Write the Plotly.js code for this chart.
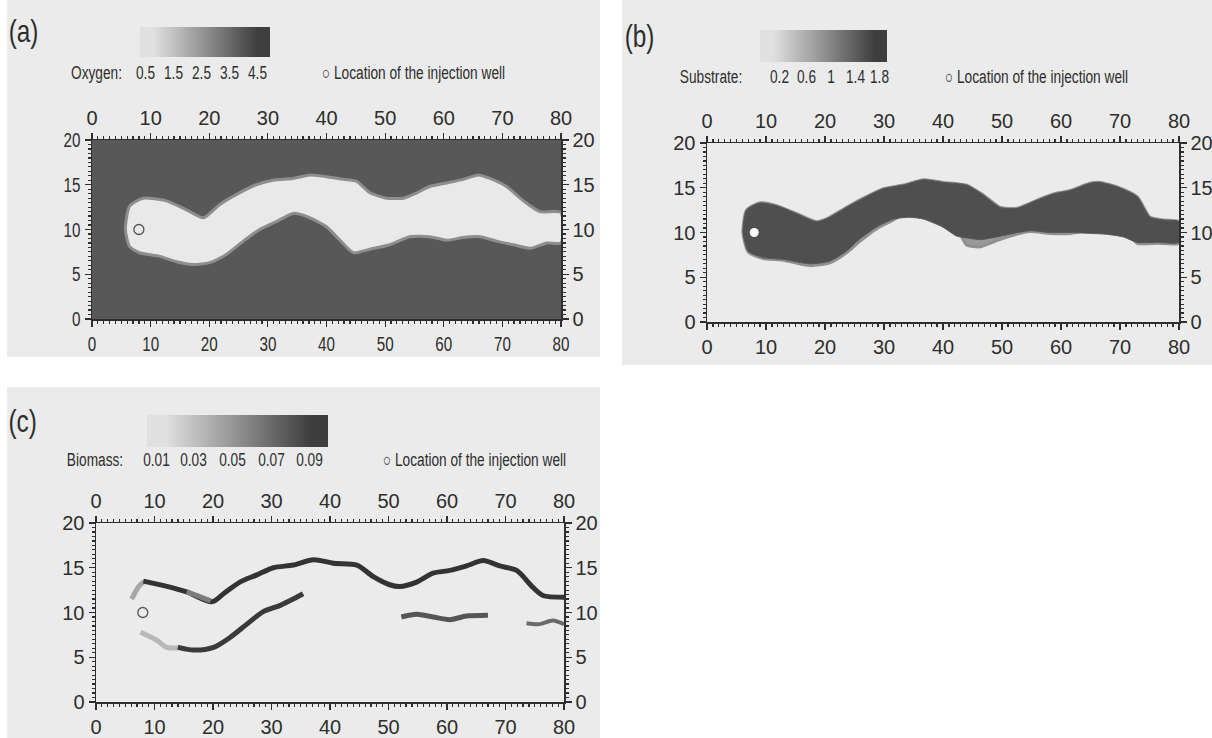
<!DOCTYPE html>
<html>
<head>
<meta charset="utf-8">
<script src="https://cdn.plot.ly/plotly-3.0.1.min.js"></script>
<style>html,body{margin:0;padding:0;background:#fff;}#chart{width:1212px;height:738px;}</style>
</head>
<body>
<div id="chart"></div>
<script>
// ---------- data ----------
const xTicks = [0, 10, 20, 30, 40, 50, 60, 70, 80];
const yTicks = [0, 5, 10, 15, 20];
const wellX = [8];
const wellY = [10];

// (a) oxygen: depleted-oxygen plume boundary
const aUpperX = [5.7, 6.4, 8.7, 12.7, 16.1, 19, 21.8, 24.6, 28, 30.9, 34.3, 37.2, 40, 42.9, 45.1, 47.4, 50.2, 53.1, 55.4, 57.6, 60.5, 63.3, 65.9, 67.9, 70.7, 73.6, 76.4, 80];
const aUpperY = [10, 12.6, 13.5, 13.2, 12.2, 11.3, 12.8, 13.9, 15, 15.5, 15.7, 16.1, 15.9, 15.6, 15.4, 14.1, 13.5, 13.5, 14.1, 14.8, 15.2, 15.6, 16.1, 15.7, 14.8, 13.2, 12.0, 11.9];
const aLowerX = [5.7, 6.4, 8.1, 11.6, 14.4, 17.2, 20.1, 22.9, 25.8, 28.6, 31.5, 34.3, 37.2, 40, 42.3, 44.6, 47.4, 50.8, 54.2, 57.6, 60.5, 63.3, 66.2, 69, 71.9, 74.7, 77.6, 80];
const aLowerY = [10, 8.1, 7.4, 7.0, 6.4, 6.1, 6.3, 7.2, 8.7, 10, 10.9, 11.8, 11.3, 10.3, 8.8, 7.4, 7.8, 8.3, 9.2, 9.2, 8.8, 9.1, 9.2, 8.7, 8.3, 7.9, 8.5, 8.5];
const oxygenLevels = [0.5, 1.5, 2.5, 3.5, 4.5];

// (b) substrate plume
const bUpperX = [6.1, 6.7, 8.9, 11.8, 15.2, 18.6, 20.8, 23.6, 27, 29.9, 33.3, 36.7, 40, 44, 46.8, 49.7, 52.5, 55.9, 58.7, 61.6, 64.9, 66.6, 69.5, 72.9, 75.1, 77.4, 80];
const bUpperY = [10.0, 12.5, 13.3, 13.0, 12.1, 11.2, 11.7, 12.8, 14.0, 14.9, 15.3, 15.9, 15.6, 15.3, 14.2, 12.8, 12.7, 13.6, 14.3, 14.7, 15.5, 15.6, 15.1, 14.0, 11.7, 11.4, 11.2];
const bLowerX = [6.1, 7.0, 9.5, 12.9, 17.4, 20.8, 23.6, 25.9, 28.7, 31.6, 34.4, 36.7, 40, 42.3, 44, 46.3, 49.1, 51.9, 54.8, 58.2, 61.6, 64.9, 67.8, 70.6, 72.9, 76.3, 80];
const bLowerY = [10.0, 7.8, 7.1, 6.9, 6.3, 6.6, 7.7, 9.0, 10.4, 11.4, 12.5, 12.5, 11.7, 10.6, 8.6, 8.4, 9.1, 9.7, 10.1, 9.9, 9.9, 10.3, 10.7, 10.3, 8.8, 8.8, 8.8];
const bCoreLowerY = [10.0, 7.9, 7.2, 7.0, 6.5, 6.8, 7.9, 9.3, 10.6, 11.5, 11.7, 11.5, 10.6, 9.6, 9.4, 9.2, 9.5, 9.9, 10.2, 10.0, 10.0, 9.9, 9.8, 9.5, 8.9, 8.9, 8.9];
const substrateLevels = [0.2, 0.6, 1, 1.4, 1.8];

// (c) biomass fringes
const cUpperFaintX = [6.1, 7.3, 8.3];
const cUpperFaintY = [11.5, 12.9, 13.5];
const cUpperX = [8.1, 11.6, 15.5, 19.8, 21.8, 24.6, 27.5, 30.3, 33.7, 37.2, 40.6, 44.6, 47.4, 50.2, 51.9, 54.8, 57.6, 60.5, 63.3, 66.2, 69, 71.9, 74.7, 76.4, 80];
const cUpperY = [13.5, 13.0, 12.3, 11.2, 12.1, 13.4, 14.2, 15.0, 15.3, 15.9, 15.5, 15.3, 14.0, 13.1, 12.9, 13.4, 14.4, 14.7, 15.2, 15.8, 15.2, 14.7, 12.8, 11.9, 11.7];
const cUpperGrayX = [15.5, 17.6, 19.6];
const cUpperGrayY = [12.3, 11.8, 11.3];
const cLowerFaintX = [7.6, 10.4, 12.1, 14.4];
const cLowerFaintY = [7.8, 6.9, 6.1, 6.1];
const cLowerX = [14.0, 16.7, 20.1, 22.9, 25.8, 28.6, 31.5, 33.7, 35.4];
const cLowerY = [6.1, 5.8, 6.1, 7.2, 8.7, 10.1, 10.8, 11.5, 12.1];
const cMidX = [52.2, 54.8, 57.6, 60.5, 63.3, 67];
const cMidY = [9.5, 9.8, 9.5, 9.2, 9.6, 9.7];
const cRightX = [73.6, 75.8, 78.1, 80];
const cRightY = [8.8, 8.7, 9.1, 8.7];
const biomassLevels = [0.01, 0.03, 0.05, 0.07, 0.09];

// ---------- helpers ----------
const W = 1212, H = 738;
const px = v => v / W;
const py = v => 1 - v / H;
const FONT = "'Liberation Sans', Arial, sans-serif";
const INK = '#2e2e2e';
const poly = (ux, uy, lx, ly) => ({
  x: ux.concat(lx.slice().reverse()),
  y: uy.concat(ly.slice().reverse())
});

const traces = [];
const layout = {
  width: W, height: H,
  margin: {l: 0, r: 0, t: 0, b: 0},
  paper_bgcolor: '#ffffff',
  plot_bgcolor: 'rgba(0,0,0,0)',
  showlegend: false,
  font: {family: FONT, color: INK, size: 18},
  shapes: [], annotations: []
};

// scanned-page background patches
[[7, 0, 600, 357], [622, 0, 1212, 365], [7, 387, 600, 738]].forEach(r => {
  layout.shapes.push({type: 'rect', xref: 'paper', yref: 'paper', layer: 'below',
    x0: px(r[0]), x1: px(r[2]), y0: py(r[3]), y1: py(r[1]),
    fillcolor: '#ebebeb', line: {width: 0}});
});

function panelAxes(n, xd, yd) {
  const common = {
    showgrid: false, zeroline: false, showline: true, linecolor: INK, linewidth: 1.5,
    ticks: 'outside', ticklen: 6, tickwidth: 1.2, tickcolor: INK,
    tickfont: {family: FONT, size: 20, color: INK}, fixedrange: true
  };
  const xa = Object.assign({}, common, {domain: xd, range: [0, 80], tickvals: xTicks,
    minor: {dtick: 1, ticklen: 3, ticks: 'outside', tickcolor: INK, showgrid: false}});
  const ya = Object.assign({}, common, {domain: yd, range: [0, 20], tickvals: yTicks,
    minor: {dtick: 0.5, ticklen: 3, ticks: 'outside', tickcolor: INK, showgrid: false}});
  const ix = (n - 1) * 2 + 1;
  const sfx = i => (i === 1 ? '' : String(i));
  const xid = 'x' + sfx(ix), yid = 'y' + sfx(ix);
  const xtid = 'x' + (ix + 1), yrid = 'y' + (ix + 1);
  layout['xaxis' + sfx(ix)] = Object.assign({}, xa, {anchor: yid, side: 'bottom'});
  layout['xaxis' + (ix + 1)] = Object.assign({}, xa, {anchor: yid, side: 'top', overlaying: xid});
  layout['yaxis' + sfx(ix)] = Object.assign({}, ya, {anchor: xid, side: 'left'});
  layout['yaxis' + (ix + 1)] = Object.assign({}, ya, {anchor: xid, side: 'right', overlaying: yid});
  // invisible carriers so the mirrored (top / right) axes get drawn
  traces.push({type: 'scatter', mode: 'markers', x: wellX, y: wellY, xaxis: xtid, yaxis: yid,
    marker: {opacity: 0}, hoverinfo: 'skip'});
  traces.push({type: 'scatter', mode: 'markers', x: wellX, y: wellY, xaxis: xid, yaxis: yrid,
    marker: {opacity: 0}, hoverinfo: 'skip'});
  return {x: xid, y: yid};
}

function colorBar(n, xd, yd, levels) {
  layout['xaxis' + (20 + n)] = {domain: xd, visible: false, fixedrange: true, anchor: 'y' + (20 + n)};
  layout['yaxis' + (20 + n)] = {domain: yd, visible: false, fixedrange: true, anchor: 'x' + (20 + n)};
  traces.push({type: 'heatmap', x: levels, y: [0, 1], z: [levels, levels],
    xaxis: 'x' + (20 + n), yaxis: 'y' + (20 + n), zsmooth: 'best', showscale: false,
    hoverinfo: 'skip',
    colorscale: [[0, '#e0e0e0'], [0.3, '#b0b0b0'], [0.65, '#777777'], [1, '#3e3e3e']]});
}

function txt(cx, cy, s, size) {
  layout.annotations.push({xref: 'paper', yref: 'paper', x: px(cx), y: py(cy), xanchor: 'center', yanchor: 'middle',
    text: s, showarrow: false, font: {family: FONT, size: size, color: INK}});
}

function header(label, labelC, name, nameC, nums, numC, legC, ty) {
  txt(labelC[0], labelC[1], label, 32);
  txt(nameC, ty, name, 18);
  nums.forEach((v, i) => txt(numC[i], ty, String(v), 18));
  txt(legC, ty, '○ Location of the injection well', 18);
}

// ---------- panel (a) ----------
const A = panelAxes(1, [px(92), px(561)], [py(319), py(140)]);
layout.shapes.push({type: 'rect', xref: 'x domain', yref: 'y domain', layer: 'below',
  x0: 0, x1: 1, y0: 0, y1: 1, fillcolor: '#585858', line: {width: 0}});
const pa = poly(aUpperX, aUpperY, aLowerX, aLowerY);
traces.push({type: 'scatter', mode: 'lines', x: pa.x, y: pa.y, fill: 'toself', fillcolor: '#e9e9e9',
  line: {color: '#8e8e8e', width: 3, shape: 'spline', smoothing: 0.6}, xaxis: A.x, yaxis: A.y, hoverinfo: 'skip'});
traces.push({type: 'scatter', mode: 'markers', x: wellX, y: wellY, xaxis: A.x, yaxis: A.y,
  marker: {symbol: 'circle-open', size: 10, color: '#555', line: {width: 1.3}}});
colorBar(1, [px(140), px(270)], [py(57), py(27)], oxygenLevels);
header('(a)', [23, 31], 'Oxygen:', 96, oxygenLevels, [145, 173, 201, 229, 257], 413, 73);

// ---------- panel (b) ----------
const B = panelAxes(2, [px(707), px(1179)], [py(322), py(143)]);
const pb = poly(bUpperX, bUpperY, bLowerX, bLowerY);
traces.push({type: 'scatter', mode: 'lines', x: pb.x, y: pb.y, fill: 'toself', fillcolor: '#999999',
  line: {color: '#909090', width: 3, shape: 'spline', smoothing: 0.6}, xaxis: B.x, yaxis: B.y, hoverinfo: 'skip'});
const pbc = poly(bUpperX, bUpperY, bLowerX, bCoreLowerY);
traces.push({type: 'scatter', mode: 'lines', x: pbc.x, y: pbc.y, fill: 'toself', fillcolor: '#4f4f4f',
  line: {color: '#555555', width: 1, shape: 'spline', smoothing: 0.6}, xaxis: B.x, yaxis: B.y, hoverinfo: 'skip'});
traces.push({type: 'scatter', mode: 'markers', x: wellX, y: wellY, xaxis: B.x, yaxis: B.y,
  marker: {symbol: 'circle', size: 9, color: '#ffffff', line: {width: 0}}});
colorBar(2, [px(760), px(887)], [py(62), py(30)], substrateLevels);
header('(b)', [640, 36], 'Substrate:', 711, substrateLevels, [779, 806, 831, 855, 879], 1036, 77);

// ---------- panel (c) ----------
const C = panelAxes(3, [px(96), px(564)], [py(702), py(523)]);
const line = (xs, ys, color, w) => traces.push({type: 'scatter', mode: 'lines', x: xs, y: ys,
  line: {color: color, width: w, shape: 'spline', smoothing: 0.8}, xaxis: C.x, yaxis: C.y, hoverinfo: 'skip'});
line(cUpperFaintX, cUpperFaintY, '#a6a6a6', 5);
line(cUpperX, cUpperY, '#333333', 5);
line(cUpperGrayX, cUpperGrayY, '#7c7c7c', 5);
line(cLowerFaintX, cLowerFaintY, '#b8b8b8', 5);
line(cLowerX, cLowerY, '#3a3a3a', 5);
line(cMidX, cMidY, '#555555', 5);
line(cRightX, cRightY, '#6a6a6a', 4);
traces.push({type: 'scatter', mode: 'markers', x: wellX, y: wellY, xaxis: C.x, yaxis: C.y,
  marker: {symbol: 'circle-open', size: 10, color: '#555', line: {width: 1.3}}});
colorBar(3, [px(147), px(328)], [py(447), py(415)], biomassLevels);
header('(c)', [22, 421], 'Biomass:', 95, biomassLevels, [156, 193, 232, 271, 309], 474, 460);

Plotly.newPlot('chart', traces, layout, {staticPlot: true, displayModeBar: false}).then(gd => {
  // condense text horizontally to mimic the narrow typeface of the original
  const squeeze = (t, f) => {
    const w = t.getComputedTextLength();
    if (w > 0) {
      t.setAttribute('textLength', (w * f).toFixed(1));
      t.setAttribute('lengthAdjust', 'spacingAndGlyphs');
    }
  };
  gd.querySelectorAll('.xtick text, .ytick text').forEach(t => squeeze(t, 0.76));
  gd.querySelectorAll('.annotation-text').forEach(t => squeeze(t, 0.76));
});
</script>
</body>
</html>
